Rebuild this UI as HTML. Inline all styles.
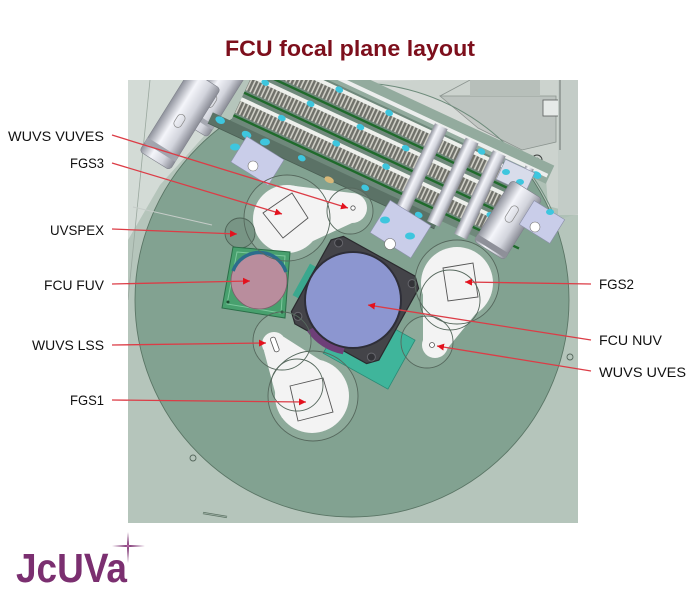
<!DOCTYPE html>
<html><head><meta charset="utf-8"><style>
html,body{margin:0;padding:0;background:#fff;}
svg{display:block;font-family:"Liberation Sans",Arial,sans-serif;}
</style></head><body>
<svg width="700" height="603" viewBox="0 0 700 603" xmlns="http://www.w3.org/2000/svg">
<defs>
  <clipPath id="img"><rect x="128" y="80" width="450" height="443"/></clipPath>
  <pattern id="teeth" patternUnits="userSpaceOnUse" width="4" height="14">
    <rect width="4" height="14" fill="#cfcfc6"/>
    <rect width="2.4" height="14" fill="#6f7069"/>
  </pattern>
  <linearGradient id="cyl" x1="0" y1="0" x2="1" y2="0">
    <stop offset="0" stop-color="#8f929c"/>
    <stop offset="0.35" stop-color="#f4f5fa"/>
    <stop offset="0.7" stop-color="#d2d4dc"/>
    <stop offset="1" stop-color="#8a8c96"/>
  </linearGradient>
  <marker id="ah" viewBox="0 0 10 10" refX="10" refY="5" markerWidth="7" markerHeight="7" markerUnits="userSpaceOnUse" orient="auto">
    <path d="M0,0 L10,5 L0,10 z" fill="#e3121e"/>
  </marker>
</defs>

<rect width="700" height="603" fill="#ffffff"/>

<text x="225" y="56" font-size="22" font-weight="bold" fill="#7d0f1c" textLength="250" lengthAdjust="spacingAndGlyphs">FCU focal plane layout</text>

<g clip-path="url(#img)">
  <rect x="128" y="80" width="450" height="443" fill="#b5c5bb"/>
  <polygon points="128,80 240,80 205,135 160,185 128,240" fill="#d3dbd6"/>
  <line x1="150" y1="80" x2="128" y2="300" stroke="#9aa89f" stroke-width="0.8"/>

  <!-- disk -->
  <circle cx="352" cy="300" r="217" fill="#82a291" stroke="#5a7565" stroke-width="0.9"/>

  <!-- upper right grey mechanism -->
  <polygon points="330,80 578,80 578,214 548,206 546,179 364,95 335,84" fill="#d6dad7"/>
  <polygon points="440,96 556,96 556,142 522,150 478,128" fill="#c4c8c5" stroke="#8d928f" stroke-width="0.8"/>
  <polygon points="470,80 540,80 540,96 470,96" fill="#bfc3c0"/>
  <line x1="440" y1="96" x2="470" y2="80" stroke="#8d928f" stroke-width="0.8"/>
  <rect x="543" y="100" width="20" height="16" fill="#f4f4f4" stroke="#555" stroke-width="0.8"/>
  <rect x="558" y="80" width="20" height="135" fill="#ccd2ce"/>
  <line x1="560" y1="80" x2="560" y2="150" stroke="#6a6f6c" stroke-width="1"/>
  <circle cx="537" cy="160" r="5" fill="none" stroke="#333" stroke-width="1"/>
  <circle cx="537" cy="160" r="2" fill="none" stroke="#333" stroke-width="0.8"/>
  <path d="M343,83 A217,217 0 0 1 556,220" fill="none" stroke="#6d8a7a" stroke-width="1"/>
  <path d="M343,83 A217,217 0 0 1 556,220 L578,214 L578,80 L420,80 Z" fill="#82a291" fill-opacity="0.12"/>

  <!-- top-left cylinders -->
  <g transform="translate(215,95) rotate(32)">
    <rect x="-16" y="-40" width="32" height="80" rx="4" fill="url(#cyl)" stroke="#7f828b" stroke-width="0.6"/>
    <rect x="-16" y="26" width="32" height="5" fill="#a5a8b1"/>
    <rect x="-4" y="0" width="8" height="14" rx="4" fill="none" stroke="#888" stroke-width="0.7"/>
  </g>
  <g transform="translate(180,120) rotate(32)">
    <rect x="-18" y="-48" width="36" height="96" rx="4" fill="url(#cyl)" stroke="#7f828b" stroke-width="0.6"/>
    <rect x="-18" y="32" width="36" height="6" fill="#a2a5ae"/>
    <rect x="-4" y="-6" width="8" height="14" rx="4" fill="none" stroke="#888" stroke-width="0.7"/>
  </g>

  <!-- gear rack band -->
  <g transform="translate(240,125) rotate(25)">
    <rect x="40" y="-96" width="262" height="20" fill="#93ab9e"/>
    <rect x="60" y="-86" width="240" height="4" fill="#eceeed"/>
    <rect x="-10" y="-78" width="296" height="80" fill="#6f887b"/>
    <!-- row 1 -->
    <rect x="-10" y="-76" width="292" height="4" fill="#eef0ec"/>
    <rect x="-10" y="-72" width="292" height="13" fill="url(#teeth)"/>
    <line x1="-10" y1="-56" x2="300" y2="-56" stroke="#1f6a2b" stroke-width="2.4"/>
    <!-- row 2 -->
    <rect x="-10" y="-51" width="292" height="4" fill="#eef0ec"/>
    <rect x="-10" y="-47" width="292" height="13" fill="url(#teeth)"/>
    <line x1="-10" y1="-31" x2="305" y2="-31" stroke="#1f6a2b" stroke-width="2.4"/>
    <!-- row 3 -->
    <rect x="-10" y="-26" width="292" height="4" fill="#eef0ec"/>
    <rect x="-10" y="-22" width="292" height="13" fill="url(#teeth)"/>
    <line x1="-10" y1="-6" x2="305" y2="-6" stroke="#1f6a2b" stroke-width="2.4"/>
    <!-- lower slate strip -->
    <rect x="-30" y="0" width="250" height="12" fill="#5b7266"/>
    <line x1="-30" y1="12" x2="220" y2="12" stroke="#4a5e53" stroke-width="0.8"/>
    <!-- cross shafts -->
    <rect x="176" y="-84" width="14" height="92" fill="url(#cyl)"/>
    <rect x="210" y="-84" width="14" height="92" fill="url(#cyl)"/>
    <rect x="240" y="-84" width="14" height="92" fill="url(#cyl)"/>
    <rect x="276" y="-84" width="9" height="92" fill="url(#cyl)"/>
    <!-- cyan nuts -->
    <g fill="#3ec6de">
      <ellipse cx="20" cy="-74" rx="4" ry="3"/><ellipse cx="75" cy="-74" rx="4" ry="3"/>
      <ellipse cx="130" cy="-74" rx="4" ry="3"/><ellipse cx="230" cy="-78" rx="4" ry="3"/>
      <ellipse cx="5" cy="-49" rx="4" ry="3"/><ellipse cx="55" cy="-49" rx="4" ry="3"/>
      <ellipse cx="110" cy="-49" rx="4" ry="3"/><ellipse cx="160" cy="-49" rx="4" ry="3"/>
      <ellipse cx="35" cy="-24" rx="4" ry="3"/><ellipse cx="95" cy="-24" rx="4" ry="3"/>
      <ellipse cx="150" cy="-24" rx="4" ry="3"/><ellipse cx="265" cy="-24" rx="4" ry="3"/>
      <ellipse cx="-20" cy="4" rx="5" ry="3.5"/><ellipse cx="10" cy="6" rx="5" ry="3.5"/>
      <ellipse cx="70" cy="4" rx="4" ry="3"/><ellipse cx="140" cy="4" rx="4" ry="3"/>
      <ellipse cx="200" cy="6" rx="4" ry="3"/><ellipse cx="290" cy="-80" rx="5" ry="3.5"/>
    </g>
    <ellipse cx="104" cy="12" rx="5" ry="3" fill="#d8b878"/>
  </g>

  <!-- right end bracket -->
  <g transform="translate(515,177) rotate(25)">
    <rect x="-16" y="-12" width="32" height="22" fill="#d8dcea" stroke="#8c90aa" stroke-width="0.6"/>
  </g>
  <ellipse cx="506" cy="172" rx="4" ry="3" fill="#3ec6de"/>
  <ellipse cx="520" cy="182" rx="4" ry="3" fill="#3ec6de"/>

  <!-- right cylinder -->
  <g transform="translate(508,220) rotate(32)">
    <rect x="-18" y="-36" width="36" height="72" rx="4" fill="url(#cyl)" stroke="#7f828b" stroke-width="0.6"/>
    <rect x="-18" y="28" width="36" height="6" fill="#8e9099"/>
    <rect x="-4" y="-16" width="8" height="18" rx="4" fill="none" stroke="#888" stroke-width="0.7"/>
  </g>

  <!-- brackets -->
  <g transform="translate(258,160) rotate(32)">
    <rect x="-22" y="-14" width="44" height="30" fill="#c9cde9" stroke="#8c90aa" stroke-width="0.6"/>
  </g>
  <circle cx="253" cy="166" r="5" fill="#fff" stroke="#777" stroke-width="0.6"/>
  <ellipse cx="235" cy="147" rx="5" ry="3.5" fill="#3ec6de"/>
  <ellipse cx="265" cy="142" rx="5" ry="3.5" fill="#3ec6de"/>
  <g transform="translate(400,230) rotate(32)">
    <rect x="-24" y="-20" width="48" height="38" fill="#c9cde9" stroke="#8c90aa" stroke-width="0.6"/>
  </g>
  <circle cx="390" cy="244" r="5.5" fill="#fff" stroke="#777" stroke-width="0.6"/>
  <ellipse cx="385" cy="220" rx="5" ry="3.5" fill="#3ec6de"/>
  <ellipse cx="410" cy="236" rx="5" ry="3.5" fill="#3ec6de"/>
  <g transform="translate(542,222) rotate(32)">
    <rect x="-18" y="-14" width="36" height="28" fill="#c9cde9" stroke="#8c90aa" stroke-width="0.6"/>
  </g>
  <circle cx="535" cy="227" r="5" fill="#fff" stroke="#777" stroke-width="0.6"/>
  <ellipse cx="550" cy="212" rx="4" ry="3" fill="#3ec6de"/>

  <!-- small details -->
  <line x1="133" y1="207" x2="212" y2="225" stroke="#c5ccc8" stroke-width="0.9"/>
  <line x1="203" y1="513" x2="227" y2="517" stroke="#5e7466" stroke-width="2.2"/>
  <line x1="203" y1="513" x2="227" y2="517" stroke="#a3b6aa" stroke-width="0.8"/>
  <circle cx="193" cy="458" r="3" fill="none" stroke="#56685d" stroke-width="0.9"/>
  <circle cx="570" cy="357" r="3" fill="none" stroke="#56685d" stroke-width="0.9"/>

  <!-- light halo circles -->
  <g fill="#ffffff" fill-opacity="0.09">
    <circle cx="287" cy="218" r="43"/>
    <circle cx="350" cy="211" r="23"/>
    <circle cx="457" cy="282" r="42"/>
    <circle cx="427" cy="342" r="26"/>
    <circle cx="282" cy="341" r="29"/>
    <circle cx="313" cy="396" r="45"/>
  </g>

  <!-- FGS blobs -->
  <g fill="#f3f3f3">
    <circle cx="287" cy="219" r="34"/>
    <circle cx="352" cy="208" r="15"/>
    <polygon points="287,185 352,193 352,223 287,253"/>
    <circle cx="457" cy="283" r="36"/>
    <circle cx="435" cy="345" r="13"/>
    <polygon points="423,271 491,295 447,349 423,341"/>
    <circle cx="312" cy="396" r="37"/>
    <circle cx="274" cy="344" r="12"/>
    <polygon points="342,374 284,337 264,351 282,418"/>
  </g>

  <!-- UVSPEX -->
  <circle cx="240" cy="233" r="15" fill="#789585" stroke="#4f6357" stroke-width="0.9"/>

  <!-- FUV -->
  <polygon points="233,247 290,252 285,318 222,308" fill="#48a06e" stroke="#2a6e48" stroke-width="1"/>
  <polygon points="237,252 285,256 281,313 227,304" fill="none" stroke="#7cc79c" stroke-width="1"/>
  <circle cx="259" cy="281" r="28" fill="#b98d9d" stroke="#7b5d6a" stroke-width="0.8"/>
  <path d="M233,271 A28,28 0 0 1 286,272" fill="none" stroke="#2c6d8c" stroke-width="3.5"/>
  <circle cx="228" cy="302" r="1.5" fill="#1d4a30"/>
  <circle cx="282" cy="312" r="1.5" fill="#1d4a30"/>

  <!-- NUV -->
  <g transform="translate(355,300) rotate(29)">
    <rect x="-2" y="6" width="74" height="56" fill="#3fb59b" stroke="#2a8a75" stroke-width="0.8"/>
    <rect x="-57" y="-10" width="9" height="36" fill="#3aa88e"/>
    <polygon points="-41,-50 41,-50 50,-41 50,41 41,50 -41,50 -50,41 -50,-41" fill="#444449" stroke="#2a2a2e" stroke-width="1.2"/>
    <g fill="#333338" stroke="#66666c" stroke-width="1">
      <circle cx="-42" cy="-42" r="4"/><circle cx="42" cy="-42" r="4"/>
      <circle cx="42" cy="42" r="4"/><circle cx="-42" cy="42" r="4"/>
    </g>
  </g>
  <path d="M344.7,347.3 A48,48 0 0 1 313.4,327.5 L307,331.1 A55,55 0 0 0 342.8,354.2 Z" fill="#6e3f78"/>
  <circle cx="353" cy="300" r="48" fill="#8c96d0" stroke="#2e2e38" stroke-width="2"/>

  <!-- FGS squares -->
  <g fill="none" stroke="#555" stroke-width="0.9">
    <polygon points="292,193 308,218 283,238 263,213"/>
    <polygon points="443,268 473,263 478,297 448,301"/>
    <polygon points="290,386 323,378 333,412 298,421"/>
  </g>
  <rect x="272.5" y="337" width="5" height="15" rx="2" fill="#fff" stroke="#555" stroke-width="0.8" transform="rotate(-20 275 345)"/>
  <circle cx="353" cy="208" r="2.2" fill="#fff" stroke="#555" stroke-width="0.8"/>
  <circle cx="432" cy="345" r="2.5" fill="#fff" stroke="#555" stroke-width="0.8"/>

  <!-- outline circles -->
  <g fill="none" stroke="#56685d" stroke-width="0.9">
    <circle cx="287" cy="218" r="43"/>
    <circle cx="350" cy="211" r="23"/>
    <circle cx="457" cy="282" r="42"/>
    <circle cx="427" cy="342" r="26"/>
    <circle cx="282" cy="341" r="29"/>
    <circle cx="297" cy="385" r="26"/>
    <circle cx="313" cy="396" r="45"/>
    <circle cx="450" cy="300" r="30"/>
  </g>
</g>

<!-- connectors -->
<g stroke="#dc3c46" stroke-width="1.3" fill="none" marker-end="url(#ah)">
  <line x1="112" y1="135" x2="348" y2="208"/>
  <line x1="112" y1="163" x2="282" y2="214"/>
  <line x1="112" y1="229" x2="237" y2="234"/>
  <line x1="112" y1="284" x2="250" y2="281"/>
  <line x1="112" y1="345" x2="266" y2="343"/>
  <line x1="112" y1="400" x2="306" y2="402"/>
  <line x1="591" y1="284" x2="465" y2="282"/>
  <line x1="591" y1="340" x2="368" y2="305"/>
  <line x1="591" y1="371" x2="437" y2="346"/>
</g>

<!-- labels -->
<g font-size="14" fill="#111">
  <text x="8" y="141" textLength="96" lengthAdjust="spacingAndGlyphs">WUVS VUVES</text>
  <text x="70" y="168" textLength="34" lengthAdjust="spacingAndGlyphs">FGS3</text>
  <text x="50" y="235" textLength="54" lengthAdjust="spacingAndGlyphs">UVSPEX</text>
  <text x="44" y="290" textLength="60" lengthAdjust="spacingAndGlyphs">FCU FUV</text>
  <text x="32" y="350" textLength="72" lengthAdjust="spacingAndGlyphs">WUVS LSS</text>
  <text x="70" y="405" textLength="34" lengthAdjust="spacingAndGlyphs">FGS1</text>
  <text x="599" y="289" textLength="35" lengthAdjust="spacingAndGlyphs">FGS2</text>
  <text x="599" y="345" textLength="63" lengthAdjust="spacingAndGlyphs">FCU NUV</text>
  <text x="599" y="377" textLength="87" lengthAdjust="spacingAndGlyphs">WUVS UVES</text>
</g>

<!-- logo -->
<text x="16" y="582" font-size="41" font-weight="bold" fill="#7b2f70" textLength="111" lengthAdjust="spacingAndGlyphs">JcUVa</text>
<path d="M112,546 L128,545 L145,546 L128,547 Z" fill="#7b2f70"/>
<path d="M128,532 L129,546 L128,563 L127,546 Z" fill="#7b2f70"/>
<circle cx="128" cy="546" r="1.5" fill="#b0609e"/>
</svg>
</body></html>
